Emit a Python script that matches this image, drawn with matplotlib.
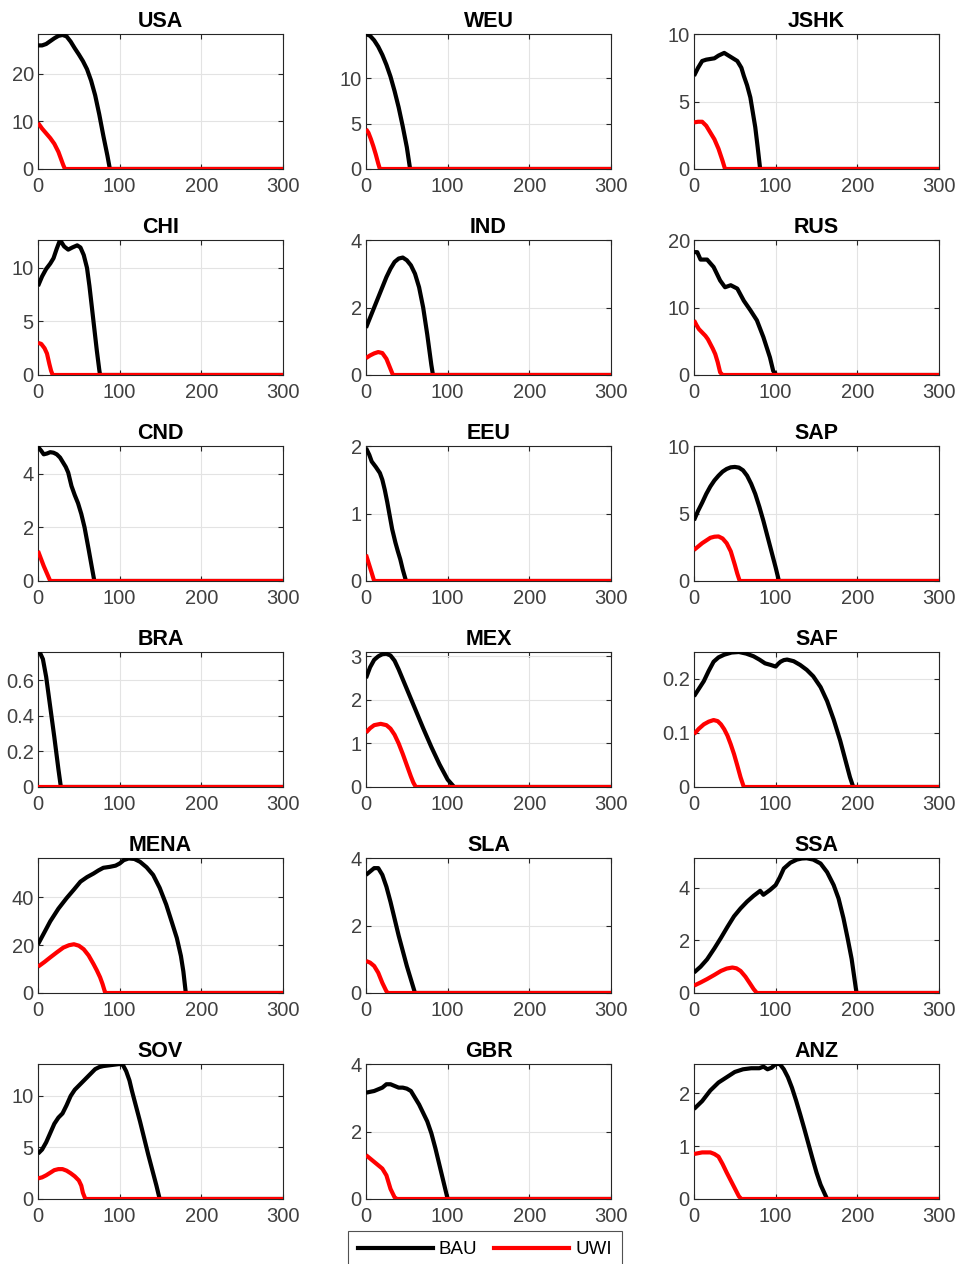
import numpy as np
import matplotlib
matplotlib.use("Agg")
from matplotlib import pyplot as plt
from matplotlib.lines import Line2D

plt.rcParams['font.family'] = ['Liberation Sans', 'DejaVu Sans']

# regiões, na ordem do grid 6x3
REGIOES = ["USA", "WEU", "JSHK", "CHI", "IND", "RUS", "CND", "EEU", "SAP",
           "BRA", "MEX", "SAF", "MENA", "SLA", "SSA", "SOV", "GBR", "ANZ"]

# BAU: (anos, valores) -- depois do último ponto a série fica em zero até 300
BAU_X = {
    "USA":  [0, 5, 10, 15, 20, 25, 30, 35, 40, 45, 50, 55, 60, 65, 70, 75, 80, 85, 88],
    "WEU":  [0, 5, 10, 15, 20, 25, 30, 35, 40, 45, 50, 54],
    "JSHK": [0, 5, 10, 15, 25, 30, 37, 45, 53, 58, 61, 65, 69, 72, 75, 78, 81],
    "CHI":  [0, 5, 10, 15, 19, 23, 27, 32, 37, 42, 48, 52, 56, 60, 63, 66, 69, 72, 75, 76],
    "IND":  [0, 5, 10, 15, 20, 25, 30, 35, 40, 45, 50, 55, 60, 65, 70, 75, 80, 82],
    "RUS":  [0, 4, 8, 16, 24, 32, 38, 45, 53, 61, 69, 77, 85, 93, 97, 101],
    "CND":  [0, 4, 7, 11, 15, 19, 23, 27, 31, 34, 37, 41, 45, 49, 53, 57, 62, 66, 69],
    "EEU":  [0, 4, 7, 12, 17, 20, 23, 26, 29, 32, 36, 39, 42, 45, 49],
    "SAP":  [0, 5, 10, 15, 20, 25, 30, 35, 40, 45, 50, 55, 60, 65, 70, 75, 80, 85, 90, 95, 100, 104],
    "BRA":  [0, 3, 6, 10, 15, 20, 25, 28],
    "MEX":  [0, 5, 10, 15, 20, 25, 30, 35, 40, 50, 60, 70, 80, 90, 100, 108],
    "SAF":  [0, 6, 12, 18, 24, 30, 37, 46, 55, 64, 73, 80, 87, 94, 100, 103, 106, 110, 114, 122,
             130, 138, 146, 155, 163, 171, 179, 185, 191, 195],
    "MENA": [0, 8, 15, 25, 35, 44, 52, 60, 68, 74, 80, 88, 95, 100, 105, 111, 118, 125, 133, 141,
             149, 157, 164, 170, 175, 178, 181],
    "SLA":  [0, 5, 10, 15, 20, 25, 30, 35, 40, 45, 50, 55, 60],
    "SSA":  [0, 8, 16, 25, 33, 41, 49, 57, 65, 73, 81, 85, 93, 100, 105, 110, 118, 126, 132, 138,
             146, 155, 163, 171, 177, 183, 188, 193, 199],
    "SOV":  [0, 5, 10, 15, 20, 25, 30, 35, 40, 45, 50, 55, 60, 65, 70, 75, 80, 90, 100, 104, 108,
             112, 115, 120, 125, 130, 135, 140, 145, 149],
    "GBR":  [0, 10, 20, 25, 30, 35, 40, 45, 50, 55, 60, 65, 70, 75, 80, 85, 90, 95, 100],
    "ANZ":  [0, 10, 20, 30, 40, 50, 60, 70, 80, 85, 90, 95, 100, 105, 110, 115, 120, 125, 130, 135,
             140, 145, 150, 155, 160, 163],
}
BAU_Y = {
    "USA":  [26, 26, 26.3, 26.9, 27.5, 28.0, 28.2, 27.9, 26.8, 25.4, 24.1, 22.7, 21, 18.6, 15.5, 11.5, 7, 2.8, 0],
    "WEU":  [14.9, 14.7, 14.2, 13.5, 12.6, 11.5, 10.2, 8.6, 6.8, 4.7, 2.4, 0],
    "JSHK": [6.9, 7.5, 8.0, 8.1, 8.2, 8.4, 8.6, 8.3, 8.0, 7.5, 6.9, 6.2, 5.3, 4.2, 3.1, 1.6, 0],
    "CHI":  [8.3, 9.2, 9.9, 10.4, 10.9, 11.8, 12.6, 12.0, 11.7, 11.9, 12.1, 11.9, 11.2, 10, 8.3, 6.3, 4.3, 2.3, 0.5, 0],
    "IND":  [1.4, 1.7, 2.0, 2.3, 2.6, 2.9, 3.15, 3.35, 3.45, 3.48, 3.4, 3.25, 3.0, 2.6, 2.0, 1.2, 0.3, 0],
    "RUS":  [18.2, 18.2, 17.1, 17.1, 16, 14, 13, 13.3, 12.8, 11, 9.6, 8.1, 5.6, 2.6, 0.6, 0],
    "CND":  [5.0, 4.85, 4.72, 4.75, 4.8, 4.78, 4.72, 4.6, 4.4, 4.25, 4.04, 3.54, 3.2, 2.9, 2.5, 2.0, 1.18, 0.5, 0],
    "EEU":  [1.97, 1.87, 1.77, 1.69, 1.6, 1.5, 1.35, 1.17, 0.97, 0.77, 0.57, 0.44, 0.32, 0.17, 0],
    "SAP":  [4.5, 5.2, 5.8, 6.45, 7.0, 7.45, 7.8, 8.1, 8.3, 8.42, 8.45, 8.4, 8.2, 7.8, 7.2, 6.45, 5.5, 4.45, 3.3, 2.15, 1.0, 0],
    "BRA":  [0.76, 0.75, 0.72, 0.62, 0.45, 0.28, 0.1, 0],
    "MEX":  [2.5, 2.75, 2.92, 3.0, 3.05, 3.06, 3.02, 2.9, 2.7, 2.25, 1.8, 1.35, 0.92, 0.52, 0.17, 0],
    "SAF":  [0.168, 0.182, 0.196, 0.215, 0.232, 0.24, 0.245, 0.249, 0.25, 0.247, 0.242, 0.236, 0.229, 0.226,
             0.223, 0.228, 0.232, 0.235, 0.236, 0.233, 0.226, 0.217, 0.205, 0.185, 0.159, 0.125, 0.086, 0.052,
             0.018, 0],
    "MENA": [20.4, 25.5, 30, 35.3, 39.7, 43.3, 46.6, 48.5, 50, 51.3, 52.4, 52.8, 53.3, 54.2, 55.6, 56.3,
             56.1, 54.9, 52.6, 49.4, 44, 37, 29.5, 23, 15.5, 9, 0],
    "SLA":  [3.5, 3.6, 3.7, 3.7, 3.5, 3.15, 2.7, 2.2, 1.7, 1.25, 0.8, 0.4, 0],
    "SSA":  [0.78, 1.0, 1.28, 1.7, 2.1, 2.52, 2.92, 3.22, 3.48, 3.7, 3.89, 3.74, 3.92, 4.11, 4.4, 4.74, 4.96, 5.08,
             5.12, 5.13, 5.08, 4.93, 4.6, 4.11, 3.6, 2.85, 2.1, 1.3, 0],
    "SOV":  [4.4, 4.8, 5.5, 6.4, 7.3, 7.9, 8.3, 9.1, 10, 10.6, 11, 11.4, 11.8, 12.2, 12.6, 12.8, 12.9, 13.0,
             13.1, 13.0, 12.4, 11.5, 10.5, 9.0, 7.5, 5.9, 4.3, 2.8, 1.3, 0],
    "GBR":  [3.15, 3.2, 3.3, 3.4, 3.4, 3.35, 3.3, 3.3, 3.27, 3.2, 3.0, 2.8, 2.55, 2.3, 1.95, 1.5, 1.0, 0.5, 0],
    "ANZ":  [1.7, 1.85, 2.05, 2.2, 2.3, 2.4, 2.45, 2.47, 2.47, 2.5, 2.45, 2.48, 2.55, 2.55, 2.45, 2.3, 2.1, 1.86,
             1.6, 1.33, 1.05, 0.77, 0.5, 0.27, 0.1, 0],
}

# UWI
UWI_X = {
    "USA":  [0, 5, 10, 15, 20, 25, 28, 31, 33],
    "WEU":  [0, 3, 6, 9, 12, 15, 17],
    "JSHK": [0, 5, 10, 15, 20, 25, 30, 35, 38],
    "CHI":  [0, 4, 8, 11, 14, 16, 18],
    "IND":  [0, 5, 10, 15, 20, 25, 30, 33],
    "RUS":  [0, 3, 6, 10, 14, 17, 20, 23, 26, 29, 32, 35],
    "CND":  [0, 7, 15],
    "EEU":  [0, 7, 10],
    "SAP":  [0, 5, 10, 15, 20, 25, 30, 35, 40, 45, 50, 53, 56],
    "BRA":  [0],
    "MEX":  [0, 5, 10, 18, 25, 30, 35, 40, 45, 50, 55, 58, 61],
    "SAF":  [0, 6, 12, 18, 24, 29, 33, 37, 41, 45, 49, 53, 57, 61],
    "MENA": [0, 8, 15, 23, 31, 38, 44, 50, 56, 62, 68, 72, 76, 79, 82, 83],
    "SLA":  [0, 5, 10, 15, 20, 25, 27],
    "SSA":  [0, 8, 16, 25, 33, 40, 47, 52, 57, 63, 69, 73, 77],
    "SOV":  [0, 5, 10, 15, 20, 25, 30, 35, 40, 45, 50, 53, 55, 58],
    "GBR":  [0, 5, 10, 15, 20, 25, 30, 35, 38],
    "ANZ":  [0, 10, 20, 25, 30, 35, 40, 45, 50, 55, 58],
}
UWI_Y = {
    "USA":  [9.7, 8.5, 7.5, 6.5, 5.3, 3.6, 2.2, 0.8, 0],
    "WEU":  [4.4, 4.0, 3.3, 2.5, 1.6, 0.6, 0],
    "JSHK": [3.45, 3.5, 3.5, 3.2, 2.7, 2.2, 1.5, 0.6, 0],
    "CHI":  [3.0, 2.9, 2.5, 2.0, 1.0, 0.4, 0],
    "IND":  [0.5, 0.58, 0.64, 0.68, 0.65, 0.48, 0.18, 0],
    "RUS":  [8.1, 7.4, 6.8, 6.3, 5.8, 5.3, 4.6, 3.9, 3.1, 1.9, 0.4, 0],
    "CND":  [1.12, 0.56, 0],
    "EEU":  [0.39, 0.12, 0],
    "SAP":  [2.3, 2.55, 2.8, 3.0, 3.2, 3.28, 3.3, 3.15, 2.8, 2.2, 1.2, 0.55, 0],
    "BRA":  [0],
    "MEX":  [1.25, 1.35, 1.42, 1.45, 1.42, 1.34, 1.2, 1.0, 0.76, 0.5, 0.24, 0.1, 0],
    "SAF":  [0.098, 0.108, 0.116, 0.121, 0.124, 0.122, 0.116, 0.107, 0.095, 0.079, 0.061, 0.04, 0.018, 0],
    "MENA": [11, 13, 14.9, 17, 19, 20, 20.4, 19.8, 18.3, 15.7, 12.1, 9.5, 6.6, 3.8, 0.4, 0],
    "SLA":  [0.95, 0.9, 0.8, 0.6, 0.3, 0.05, 0],
    "SSA":  [0.28, 0.4, 0.53, 0.69, 0.84, 0.93, 0.97, 0.94, 0.84, 0.62, 0.34, 0.15, 0],
    "SOV":  [2.0, 2.1, 2.3, 2.55, 2.8, 2.9, 2.9, 2.75, 2.5, 2.2, 1.8, 1.3, 0.6, 0],
    "GBR":  [1.3, 1.2, 1.1, 1.0, 0.9, 0.7, 0.3, 0.05, 0],
    "ANZ":  [0.85, 0.88, 0.88, 0.85, 0.8, 0.66, 0.5, 0.35, 0.2, 0.05, 0],
}

# limite superior e passo dos ticks do eixo y
Y_TOPO = {"USA": 28.4, "WEU": 14.9, "JSHK": 10, "CHI": 12.6, "IND": 4, "RUS": 20,
          "CND": 5.03, "EEU": 2, "SAP": 10, "BRA": 0.76, "MEX": 3.1, "SAF": 0.25,
          "MENA": 56.5, "SLA": 4, "SSA": 5.14, "SOV": 13.1, "GBR": 4, "ANZ": 2.55}
Y_PASSO = {"USA": 10, "WEU": 5, "JSHK": 5, "CHI": 5, "IND": 2, "RUS": 10,
           "CND": 2, "EEU": 1, "SAP": 5, "BRA": 0.2, "MEX": 1, "SAF": 0.1,
           "MENA": 20, "SLA": 2, "SSA": 2, "SOV": 5, "GBR": 2, "ANZ": 1}

T_FIM = 300
W, H = 961, 1264
ESQ = [38, 366, 694]
TOPO = [34, 240, 446, 652, 858, 1064]
LARG, ALT = 245, 135
CINZA = '#262626'


def serie(xs, ys):
    xs = list(xs) + [T_FIM]
    ys = list(ys) + [0]
    return xs, ys


fig = plt.figure(figsize=(W / 100, H / 100), dpi=100)

for i, reg in enumerate(REGIOES):
    lin, col = divmod(i, 3)
    ax = fig.add_axes([ESQ[col] / W, 1 - (TOPO[lin] + ALT) / H, LARG / W, ALT / H])

    bx, by = serie(BAU_X[reg], BAU_Y[reg])
    ux, uy = serie(UWI_X[reg], UWI_Y[reg])
    ax.plot(bx, by, color='black', lw=3, solid_capstyle='butt', solid_joinstyle='round', zorder=3)
    ax.plot(ux, uy, color='#ff0000', lw=3, solid_capstyle='butt', solid_joinstyle='round', zorder=4)

    ax.set_xlim(0, T_FIM)
    ax.set_ylim(0, Y_TOPO[reg])
    ax.set_xticks([0, 100, 200, 300])
    passo = Y_PASSO[reg]
    ticks = np.arange(0, Y_TOPO[reg] + 1e-9, passo)
    ax.set_yticks(ticks)
    if passo < 1:
        ax.set_yticklabels([("0" if t == 0 else f"{t:.1f}") for t in ticks])
    else:
        ax.set_yticklabels([f"{int(round(t))}" for t in ticks])

    ax.grid(True, color='#e3e3e3', lw=0.8, zorder=0)
    ax.set_axisbelow(True)
    ax.tick_params(direction='in', top=True, right=True, length=3.5, width=0.8,
                   labelsize=14.5, colors=CINZA)
    ax.tick_params(axis='x', pad=6)
    ax.tick_params(axis='y', pad=3)
    for tl in ax.get_xticklabels() + ax.get_yticklabels():
        tl.set_color('#404040')
    for s in ax.spines.values():
        s.set_color(CINZA)
        s.set_linewidth(0.8)
    ax.set_title(reg, fontsize=15.5, fontweight='bold', pad=5)

# legenda comum embaixo
handles = [Line2D([0], [0], color='black', lw=3),
           Line2D([0], [0], color='#ff0000', lw=3)]
leg = fig.legend(handles, ["BAU", "UWI"], ncol=2, loc='upper left',
                 bbox_to_anchor=(348 / W, 1 - 1231 / H), fontsize=13.5,
                 frameon=True, fancybox=False, handlelength=4.0,
                 columnspacing=0.9, handletextpad=0.3, borderpad=0.55,
                 borderaxespad=0)
leg.get_frame().set_edgecolor(CINZA)
leg.get_frame().set_linewidth(0.8)

plt.savefig("out.png", dpi=100)
plt.close()
